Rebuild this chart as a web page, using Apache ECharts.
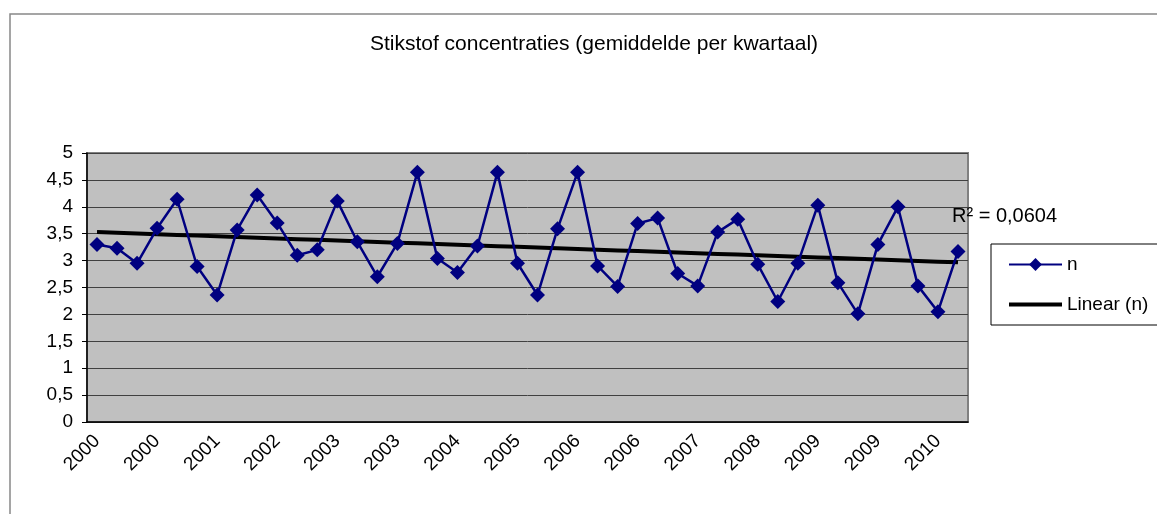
<!DOCTYPE html>
<html>
<head>
<meta charset="UTF-8">
<title>Stikstof concentraties</title>
<script src="https://cdn.jsdelivr.net/npm/echarts@6/dist/echarts.min.js"></script>
<style>
  html, body { margin: 0; padding: 0; background: #fff; }
  #chart { width: 1157px; height: 514px; }
</style>
</head>
<body>
<div id="chart"></div>
<script type="text/javascript">
// kwartalen 2000 t/m 2010 (label = jaar)
var quarters = [
  '2000','2000','2000','2000','2001','2001','2001','2001',
  '2002','2002','2002','2002','2003','2003','2003','2003',
  '2004','2004','2004','2004','2005','2005','2005','2005',
  '2006','2006','2006','2006','2007','2007','2007','2007',
  '2008','2008','2008','2008','2009','2009','2009','2009',
  '2010','2010','2010','2010'
];
// gemiddelde stikstof per kwartaal
var nValues = [
  3.30, 3.23, 2.95, 3.60, 4.14, 2.89, 2.36, 3.57,
  4.22, 3.70, 3.10, 3.20, 4.11, 3.35, 2.70, 3.32,
  4.64, 3.04, 2.78, 3.27, 4.64, 2.95, 2.36, 3.59,
  4.64, 2.90, 2.52, 3.69, 3.79, 2.76, 2.53, 3.53,
  3.77, 2.93, 2.24, 2.95, 4.03, 2.59, 2.01, 3.30,
  4.00, 2.53, 2.05, 3.17
];
var yTicks = [0, 0.5, 1, 1.5, 2, 2.5, 3, 3.5, 4, 4.5, 5];
var r2Text = 'R² = 0,0604';

// lineaire trendlijn (kleinste kwadraten) over de data
function linearTrend(vals) {
  var n = vals.length, sx = 0, sy = 0, sxy = 0, sxx = 0;
  for (var i = 0; i < n; i++) {
    var x = i + 1;
    sx += x; sy += vals[i]; sxy += x * vals[i]; sxx += x * x;
  }
  var b = (n * sxy - sx * sy) / (n * sxx - sx * sx);
  var a = (sy - b * sx) / n;
  return vals.map(function (v, i) { return +(a + b * (i + 1)).toFixed(4); });
}
var trend = linearTrend(nValues);

var chart = echarts.init(document.getElementById('chart'));
var font = 'Liberation Sans, Arial, sans-serif';

var option = {
  backgroundColor: '#fff',
  animation: false,
  textStyle: { fontFamily: font },
  title: {
    text: 'Stikstof concentraties (gemiddelde per kwartaal)',
    left: 589, top: 29, textAlign: 'center',
    textStyle: { fontSize: 21, fontWeight: 'normal', color: '#000', fontFamily: font }
  },
  graphic: [
    { type: 'rect', shape: { x: 10, y: 14, width: 1160, height: 510 }, style: { fill: 'none', stroke: '#888', lineWidth: 1.5 }, z: -1 },
    { type: 'text', left: 952, top: 206, style: { text: r2Text, font: '20px ' + font, fill: '#000' }, z: 10 }
  ],
  legend: {
    orient: 'vertical',
    left: 991, top: 244,
    padding: [11, 30, 11, 16],
    itemGap: 21,
    itemWidth: 53, itemHeight: 16,
    borderColor: '#000', borderWidth: 1,
    textStyle: { fontSize: 19, color: '#000', fontFamily: font },
    data: [
      { name: 'n', lineStyle: { width: 2 } },
      { name: 'Linear (n)', itemStyle: { color: 'rgba(0,0,0,0)', borderWidth: 0 }, lineStyle: { width: 4, color: '#000' } }
    ]
  },
  grid: { left: 87, top: 153, right: 189, bottom: 92, show: true, backgroundColor: '#c0c0c0', borderColor: '#808080', borderWidth: 2 },
  xAxis: {
    type: 'category',
    data: quarters,
    boundaryGap: true,
    axisLine: { lineStyle: { color: '#000', width: 1.5 } },
    axisTick: { interval: 0, length: 5, lineStyle: { color: '#000' } },
    axisLabel: { interval: 2, rotate: 45, fontSize: 19, color: '#000', margin: 16, fontFamily: font }
  },
  yAxis: {
    type: 'value',
    min: 0, max: 5, interval: 0.5,
    axisLine: { show: true, lineStyle: { color: '#000', width: 1.5 } },
    axisTick: { show: true, length: 5, lineStyle: { color: '#000' } },
    axisLabel: {
      fontSize: 19, color: '#000', margin: 14, fontFamily: font,
      formatter: function (v) { return yTicks.indexOf(v) >= 0 ? String(v).replace('.', ',') : ''; }
    },
    splitLine: { lineStyle: { color: '#404040', width: 1 } }
  },
  series: [
    {
      name: 'n',
      type: 'line',
      data: nValues,
      symbol: 'diamond',
      symbolSize: 15,
      showAllSymbol: true,
      itemStyle: { color: '#000080' },
      lineStyle: { color: '#000080', width: 2.5 },
      z: 3
    },
    {
      name: 'Linear (n)',
      type: 'line',
      data: trend,
      symbol: 'none',
      itemStyle: { color: '#000' },
      lineStyle: { color: '#000', width: 4 },
      z: 2
    }
  ]
};

chart.setOption(option);
</script>
</body>
</html>
